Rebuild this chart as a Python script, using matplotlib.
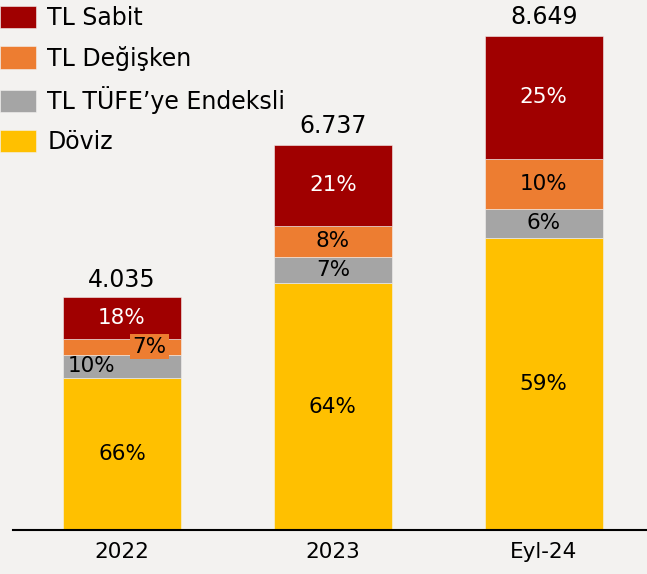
import matplotlib.pyplot as plt
import numpy as np

# debt stock by instrument type, share in %
periods = ['2022', '2023', 'Eyl-24']
totals = [4.035, 6.737, 8.649]
total_labels = ['4.035', '6.737', '8.649']
series = ['Döviz', 'TL TÜFE\u2019ye Endeksli', 'TL Değişken', 'TL Sabit']
doviz = [66, 64, 59]
tufe = [10, 7, 6]
degisken = [7, 8, 10]
sabit = [18, 21, 25]
colors = ['#FFC000', '#A5A5A5', '#ED7D31', '#A00000']
text_colors = ['black', 'black', 'black', 'white']

plt.rcParams['font.family'] = ['DejaVu Sans']
bg = '#F3F2F0'

fig = plt.figure(figsize=(6.47, 5.74), dpi=100, facecolor=bg)
ax = fig.add_axes([13 / 647, 1 - 530 / 574, 1 - 13 / 647, 530 / 574])
ax.set_facecolor(bg)

x = np.arange(len(periods))
shares = [doviz, tufe, degisken, sabit]
# 2022 rows are shifted so the thin segments stay readable
x_shift = {(0, 1): -0.145, (0, 2): 0.13}

bottom = np.zeros(len(periods))
handles = []
for i, (name, vals) in enumerate(zip(series, shares)):
    vals = np.array(vals, dtype=float)
    h = np.array(totals) * vals / 100.0
    bars = ax.bar(x, h, 0.56, bottom=bottom, color=colors[i], label=name,
                  edgecolor='#F3F2F0', linewidth=0.4)
    handles.append(bars)
    for j in range(len(periods)):
        xx = x[j] + x_shift.get((j, i), 0)
        kw = {}
        if (j, i) == (0, 2):
            kw['bbox'] = dict(facecolor=colors[i], edgecolor='none', pad=1.5)
        ax.text(xx, bottom[j] + h[j] / 2, '%d%%' % vals[j], ha='center', va='center',
                fontsize=15.5, color=text_colors[i], **kw)
    bottom += h

for j in range(len(periods)):
    ax.text(x[j], totals[j] + 0.12, total_labels[j], ha='center', va='bottom', fontsize=17)

ax.set_xlim(-0.517, 2.49)
ax.set_ylim(0, 9.27)
ax.set_yticks([])
ax.set_xticks(x)
ax.set_xticklabels(periods, fontsize=15.5)
ax.tick_params(axis='x', length=0, pad=9)
for s in ['top', 'right', 'left']:
    ax.spines[s].set_visible(False)
ax.spines['bottom'].set_linewidth(1.5)

leg = fig.legend(handles[::-1], series[::-1], loc='upper left', bbox_to_anchor=(0, 0.99),
                 frameon=False, fontsize=17, handlelength=1.53, handleheight=1.1,
                 handletextpad=0.47, labelspacing=0.66, borderpad=0, borderaxespad=0)

fig.savefig('out.png', dpi=100, facecolor=bg)
